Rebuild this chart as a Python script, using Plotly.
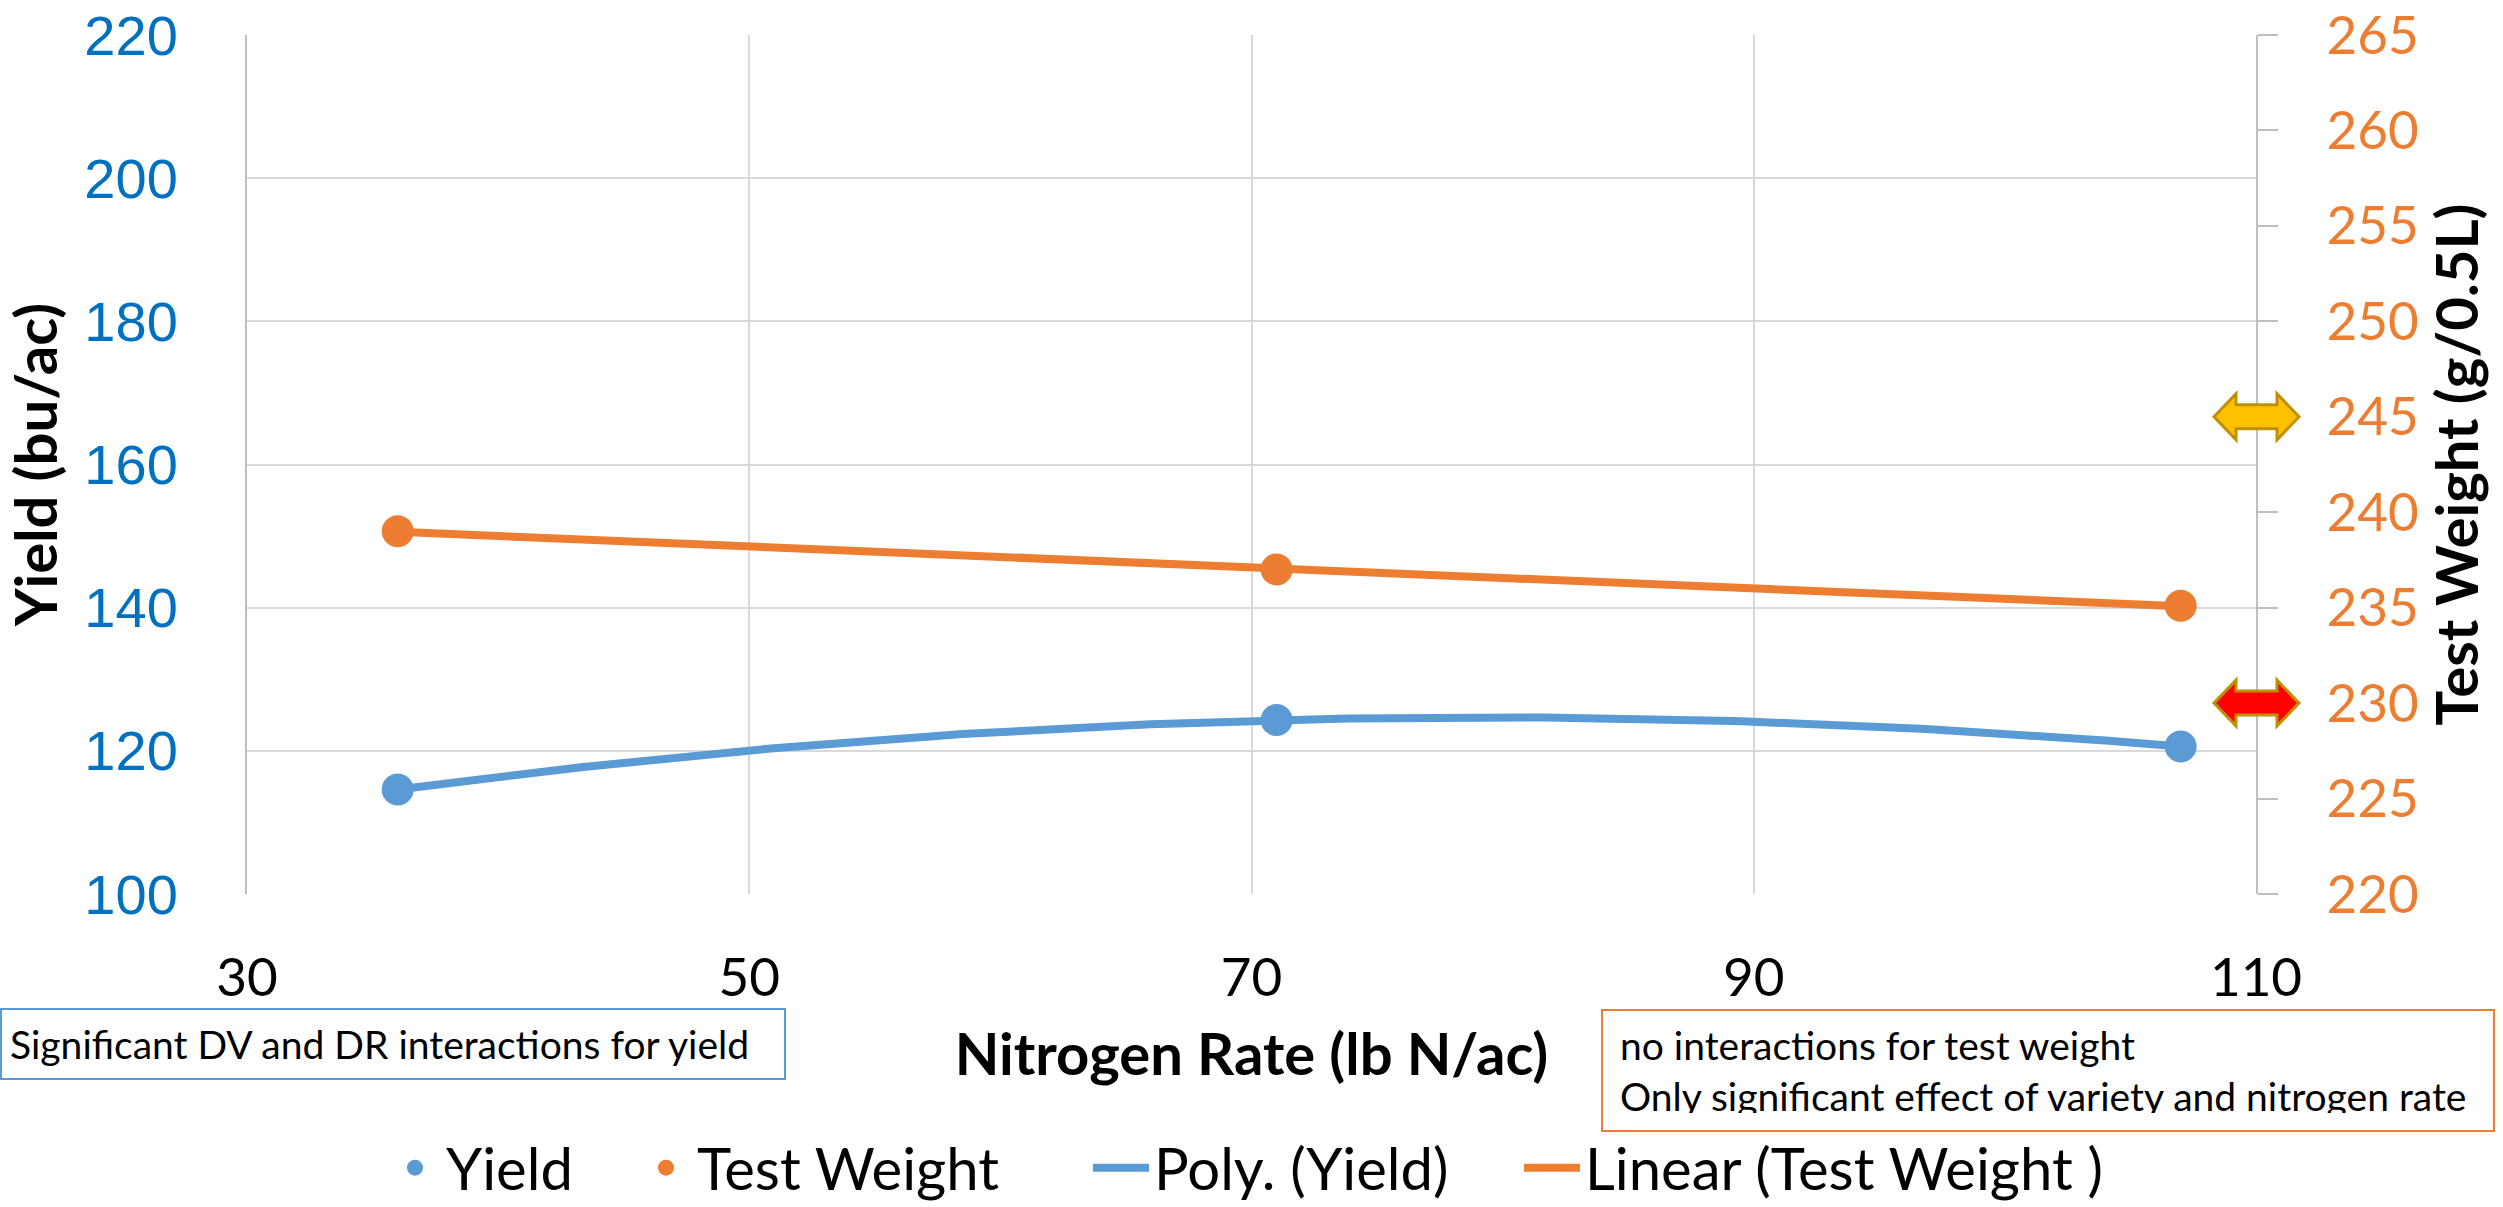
import numpy as np
import plotly.graph_objects as go

# ---------------- data ----------------
nitrogen_rate = [36, 71, 107]
yield_vals = [114.6, 124.3, 120.6]
test_weight_vals = [239.0, 237.0, 235.1]

x_ticks = [30, 50, 70, 90, 110]
yield_ticks = [100, 120, 140, 160, 180, 200, 220]
tw_ticks = [220, 225, 230, 235, 240, 245, 250, 255, 260, 265]

arrow_levels = [245, 230]          # on the Test Weight axis
arrow_fills = ["#FFC000", "#FF0000"]

box_yield_text = "Significant DV and DR interactions for yield"
box_tw_lines = ["no interactions for test weight",
                "Only significant effect of variety and nitrogen rate"]

# ---------------- style ----------------
W, H = 2503, 1207
ML, MR, MT, MB = 247, 247, 35, 313
PW, PH = W - ML - MR, H - MT - MB

BLUE = "#5B9BD5"
ORANGE = "#ED7D31"
TXT = "Lato, 'Open Sans', sans-serif"


def px_x(p):
    return (p - ML) / PW


def px_y(p):
    return (H - MB - p) / PH


# trendlines fitted from the data (as the spreadsheet does)
xt = np.linspace(nitrogen_rate[0], nitrogen_rate[-1], 200)
poly = np.polyval(np.polyfit(nitrogen_rate, yield_vals, 2), xt)
lin = np.polyval(np.polyfit(nitrogen_rate, test_weight_vals, 1), xt)

fig = go.Figure()
fig.add_trace(go.Scatter(x=xt, y=poly, mode="lines", name="Poly. (Yield)",
                         line=dict(color=BLUE, width=8), legend="legend3",
                         yaxis="y", hoverinfo="skip"))
fig.add_trace(go.Scatter(x=nitrogen_rate, y=yield_vals, mode="markers", name="Yield",
                         marker=dict(color=BLUE, size=32), legend="legend", yaxis="y"))
fig.add_trace(go.Scatter(x=xt, y=lin, mode="lines", name="Linear (Test Weight )",
                         line=dict(color=ORANGE, width=8), legend="legend4",
                         yaxis="y2", hoverinfo="skip"))
fig.add_trace(go.Scatter(x=nitrogen_rate, y=test_weight_vals, mode="markers",
                         name="Test Weight", marker=dict(color=ORANGE, size=32),
                         legend="legend2", yaxis="y2"))

# double-headed block arrows on the right axis
arrow_path = ("M-42,0 L-20,23 L-20,12 L21,12 L21,23 L43,0 "
              "L21,-23 L21,-12 L-20,-12 L-20,-23 Z")
for lvl, col in zip(arrow_levels, arrow_fills):
    fig.add_shape(type="path", path=arrow_path, xref="paper", yref="y2",
                  xsizemode="pixel", ysizemode="pixel", xanchor=1, yanchor=lvl,
                  fillcolor=col, line=dict(color="#BF9000", width=3), layer="above")

# text boxes
fig.add_annotation(xref="paper", yref="paper", x=px_x(0), y=px_y(1008),
                   xanchor="left", yanchor="top", showarrow=False,
                   text=box_yield_text, align="left", width=766, height=52,
                   bordercolor=BLUE, borderwidth=2, borderpad=8, bgcolor="white",
                   font=dict(family=TXT, size=39, color="black"))
fig.add_annotation(xref="paper", yref="paper", x=px_x(1601), y=px_y(1009),
                   xanchor="left", yanchor="top", showarrow=False,
                   text="<br>".join(box_tw_lines), align="left", width=856, height=85,
                   bordercolor=ORANGE, borderwidth=2, borderpad=17, bgcolor="white",
                   font=dict(family=TXT, size=39, color="black"))


def legend_at(px_left, item_w):
    return dict(orientation="h", x=px_x(px_left), xanchor="left",
                y=px_y(1168), yanchor="middle", itemwidth=item_w,
                font=dict(family=TXT, size=58, color="black"),
                bgcolor="rgba(0,0,0,0)", borderwidth=0)


fig.update_layout(
    width=W, height=H,
    margin=dict(l=ML, r=MR, t=MT, b=MB, autoexpand=False),
    paper_bgcolor="white", plot_bgcolor="white",
    showlegend=True,
    legend=legend_at(384, 52),
    legend2=legend_at(635, 52),
    legend3=legend_at(1088, 56),
    legend4=legend_at(1519, 56),
    xaxis=dict(range=[30, 110], tickvals=x_ticks, showgrid=True,
               gridcolor="#D9D9D9", gridwidth=2, zeroline=False, showline=False,
               ticks="", ticklabelstandoff=48,
               tickfont=dict(family=TXT, size=53, color="black"),
               title=dict(text="<b>Nitrogen Rate (lb N/ac)</b>", standoff=28,
                          font=dict(family=TXT, size=58, color="black"))),
    yaxis=dict(range=[100, 220], tickvals=yield_ticks, showgrid=True,
               gridcolor="#D9D9D9", gridwidth=2, zeroline=False,
               showline=True, linecolor="#BFBFBF", linewidth=2, ticks="",
               ticklabelstandoff=56,
               tickfont=dict(family="Liberation Sans", size=56, color="#0070C0"),
               title=dict(text="<b>Yield (bu/ac)</b>", standoff=10,
                          font=dict(family=TXT, size=58, color="black"))),
    yaxis2=dict(range=[220, 265], tickvals=tw_ticks, overlaying="y", side="right",
                showgrid=False, zeroline=False, showline=True, linecolor="#BFBFBF",
                linewidth=2, ticks="outside", ticklen=20, tickwidth=2,
                tickcolor="#BFBFBF", ticklabelstandoff=38,
                tickfont=dict(family=TXT, size=53, color=ORANGE),
                title=dict(text="<b>Test Weight (g/0.5L)</b>", standoff=20,
                           font=dict(family=TXT, size=58, color="black"))),
)

fig.write_html("out.html")
